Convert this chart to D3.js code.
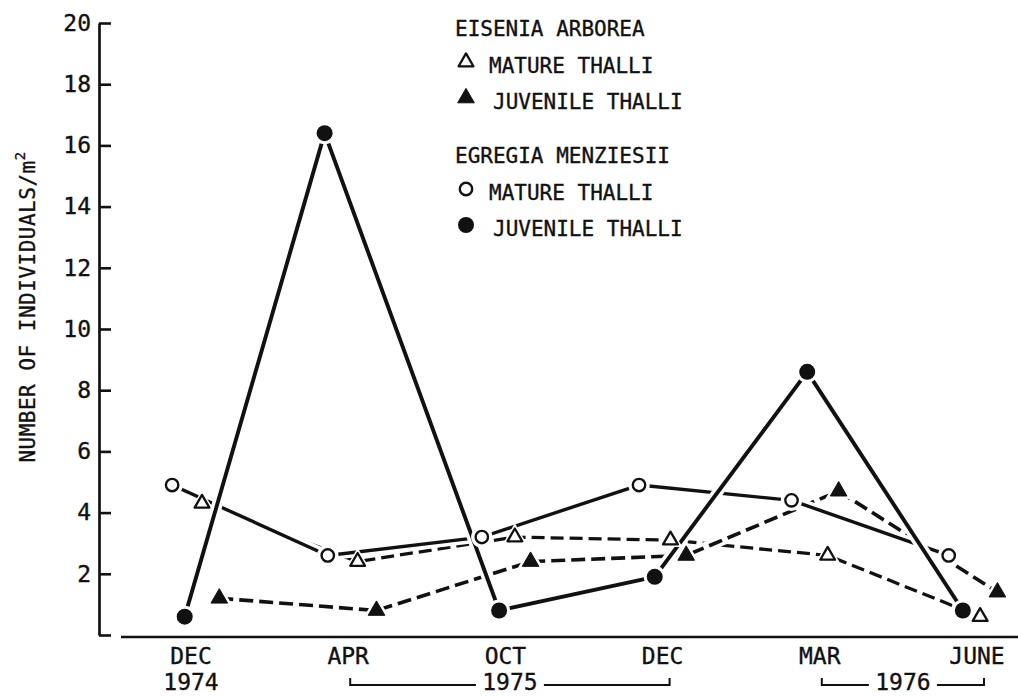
<!DOCTYPE html>
<html>
<head>
<meta charset="utf-8">
<script src="https://cdn.jsdelivr.net/npm/d3@7"></script>
<style>
  html, body { margin: 0; padding: 0; background: #fff; }
  svg { display: block; }
  text { font-family: "DejaVu Sans Mono", monospace; fill: #111; stroke: #111; stroke-width: 0.35px; }
</style>
</head>
<body>
<svg id="chart" width="1018" height="696"></svg>
<script>
// Sampling rounds shown along the time axis
const monthLabels = ["DEC", "APR", "OCT", "DEC", "MAR", "JUNE"];
const yearLabels = ["1974", "1975", "1976"];
const yearFirstRound = [0, 1, 4];
const yearLastRound = [0, 3, 5];
const yTickValues = [0, 2, 4, 6, 8, 10, 12, 14, 16, 18, 20];

// Position of each sample along the time axis, in sampling-round units,
// and density (individuals per square metre)
const eiseniaMatureRound = [0.07, 1.06, 2.06, 3.05, 4.05, 5.02];
const eiseniaMatureDensity = [4.3, 2.4, 3.2, 3.1, 2.6, 0.6];

const eiseniaJuvenileRound = [0.18, 1.18, 2.16, 3.15, 4.12, 5.13];
const eiseniaJuvenileDensity = [1.2, 0.8, 2.4, 2.6, 4.7, 1.4];

const egregiaMatureRound = [-0.12, 0.87, 1.85, 2.85, 3.82, 4.82];
const egregiaMatureDensity = [4.9, 2.6, 3.2, 4.9, 4.4, 2.6];

const egregiaJuvenileRound = [-0.04, 0.85, 1.96, 2.95, 3.92, 4.91];
const egregiaJuvenileDensity = [0.6, 16.4, 0.8, 1.9, 8.6, 0.8];

const speciesNames = ["EISENIA ARBOREA", "EGREGIA MENZIESII"];
const stageNames = ["MATURE THALLI", "JUVENILE THALLI"];

const INK = "#111";
const width = 1018, height = 696;

const x = d3.scaleLinear().domain([0, 5]).range([191, 977]);
const y = d3.scaleLinear().domain([0, 20]).range([635, 23]);

const zip = (xs, ys) => xs.map((v, i) => ({ x: v, y: ys[i] }));

// Drawing order: later series pass over earlier ones
const series = [
  { points: zip(eiseniaMatureRound, eiseniaMatureDensity), shape: "triangle", filled: false, dash: "13,6", width: 3.3 },
  { points: zip(eiseniaJuvenileRound, eiseniaJuvenileDensity), shape: "triangle", filled: true, dash: "14,6", width: 3.6 },
  { points: zip(egregiaMatureRound, egregiaMatureDensity), shape: "circle", filled: false, dash: null, width: 3.4 },
  { points: zip(egregiaJuvenileRound, egregiaJuvenileDensity), shape: "circle", filled: true, dash: null, width: 3.9 }
];

const svg = d3.select("#chart");
svg.append("rect").attr("width", width).attr("height", height).attr("fill", "#fff");

// ---- y axis (ticks point inward, no label at zero)
const yAxis = svg.append("g")
  .attr("transform", "translate(99,0)")
  .call(d3.axisLeft(y)
    .tickValues(yTickValues)
    .tickSizeInner(-12)
    .tickSizeOuter(0)
    .tickPadding(8)
    .tickFormat(d => d === 0 ? "" : d));
yAxis.select(".domain").attr("stroke", INK).attr("stroke-width", 2.7);
yAxis.selectAll(".tick line").attr("stroke", INK).attr("stroke-width", 2.6);
yAxis.selectAll(".tick text")
  .style("font-family", "'DejaVu Sans Mono', monospace")
  .attr("font-size", 23).attr("fill", INK);

// ---- y axis title
const yTitle = svg.append("text")
  .attr("transform", "translate(35,307) rotate(-90)")
  .attr("text-anchor", "middle")
  .attr("font-size", 21)
  .attr("letter-spacing", 0.5);
yTitle.append("tspan").text("NUMBER OF INDIVIDUALS/m");
yTitle.append("tspan").attr("font-size", 14).attr("dy", "-0.75em").text("2");

// ---- time axis baseline
svg.append("line")
  .attr("x1", 121).attr("x2", width)
  .attr("y1", y(0) + 2).attr("y2", y(0) + 2)
  .attr("stroke", INK).attr("stroke-width", 2.6);

// month labels
const monthBaseline = 664;
svg.append("g").selectAll("text")
  .data(monthLabels)
  .join("text")
  .attr("x", (d, i) => x(i))
  .attr("y", monthBaseline)
  .attr("text-anchor", "middle")
  .attr("font-size", 23)
  .text(d => d);

// year labels, with brackets spanning several rounds
const yearBaseline = 690;
const bracketY = 685;
yearLabels.forEach((label, i) => {
  const a = yearFirstRound[i], b = yearLastRound[i];
  if (a === b) {
    svg.append("text").attr("x", x(a)).attr("y", yearBaseline)
      .attr("text-anchor", "middle").attr("font-size", 23).text(label);
    return;
  }
  const x1 = x(a) + 2, x2 = x(b) + 7, cx = (x1 + x2) / 2, gap = 34;
  svg.append("text").attr("x", cx).attr("y", yearBaseline)
    .attr("text-anchor", "middle").attr("font-size", 23).text(label);
  svg.append("path")
    .attr("d", `M${x1},${bracketY - 7}V${bracketY}H${cx - gap}M${cx + gap},${bracketY}H${x2}V${bracketY - 7}`)
    .attr("fill", "none").attr("stroke", INK).attr("stroke-width", 2);
});

// ---- series lines (white halo breaks the lines they cross)
const line = d3.line().x(d => x(d.x)).y(d => y(d.y));
series.forEach(s => {
  svg.append("path").datum(s.points)
    .attr("d", line).attr("fill", "none")
    .attr("stroke", "#fff").attr("stroke-width", s.width + 7)
    .attr("stroke-linejoin", "round");
  svg.append("path").datum(s.points)
    .attr("d", line).attr("fill", "none")
    .attr("stroke", INK).attr("stroke-width", s.width)
    .attr("stroke-dasharray", s.dash)
    .attr("stroke-linejoin", "round");
});

// ---- markers
function marker(g, shape, filled, withHalo) {
  if (shape === "circle") {
    const r = filled ? 8 : 6.2;
    if (withHalo) g.append("circle").attr("r", r + (filled ? 3 : 4.5)).attr("fill", "#fff");
    g.append("circle").attr("r", r)
      .attr("fill", filled ? INK : "#fff")
      .attr("stroke", filled ? "none" : INK)
      .attr("stroke-width", 2.4);
  } else {
    const size = filled ? 120 : 95;
    const tri = d3.symbol().type(d3.symbolTriangle).size(size);
    if (withHalo) g.append("path").attr("d", d3.symbol().type(d3.symbolTriangle).size(size * 2.6)).attr("fill", "#fff");
    g.append("path").attr("d", tri)
      .attr("fill", filled ? INK : "#fff")
      .attr("stroke", INK)
      .attr("stroke-width", filled ? 1 : 2.3)
      .attr("stroke-linejoin", "round");
  }
}

series.forEach(s => {
  s.points.forEach(p => {
    const g = svg.append("g").attr("transform", `translate(${x(p.x)},${y(p.y)})`);
    marker(g, s.shape, s.filled, true);
  });
});

// ---- legend
const legend = svg.append("g");
const legendGroups = [
  { name: speciesNames[0], shape: "triangle", top: 36 },
  { name: speciesNames[1], shape: "circle", top: 163 }
];
legendGroups.forEach(grp => {
  legend.append("text").attr("x", 455).attr("y", grp.top)
    .attr("font-size", 21).text(grp.name);
  stageNames.forEach((stage, j) => {
    const base = grp.top + 37 + j * 36;
    const g = legend.append("g").attr("transform", `translate(466,${base - 11})`);
    marker(g, grp.shape, j === 1, false);
    legend.append("text").attr("x", j === 1 ? 493 : 489).attr("y", base)
      .attr("font-size", 21).text(stage);
  });
});
</script>
</body>
</html>
